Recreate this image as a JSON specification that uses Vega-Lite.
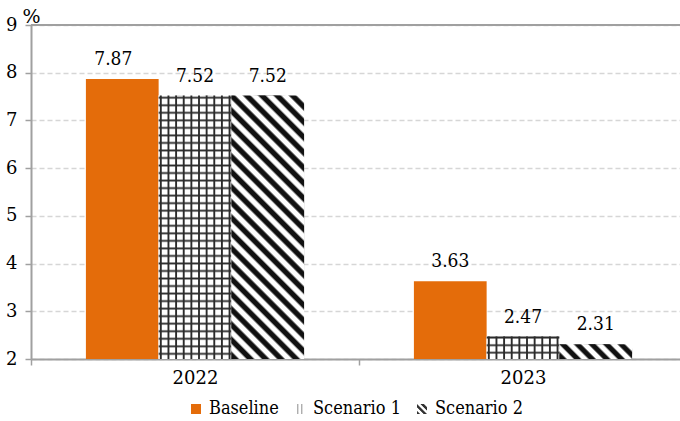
{
  "$schema": "https://vega.github.io/schema/vega-lite/v6.json",
  "width": 649,
  "height": 334,
  "autosize": {"type": "none"},
  "padding": {"left": 31, "top": 25, "right": 0, "bottom": 62},
  "background": "#ffffff",
  "data": {
    "values": [
      {"year": "2022", "series": "Baseline", "value": 7.87},
      {"year": "2022", "series": "Scenario 1", "value": 7.52},
      {"year": "2022", "series": "Scenario 2", "value": 7.52},
      {"year": "2023", "series": "Baseline", "value": 3.63},
      {"year": "2023", "series": "Scenario 1", "value": 2.47},
      {"year": "2023", "series": "Scenario 2", "value": 2.31}
    ]
  },
  "layer": [
    {
      "data": {"values": [{}]},
      "mark": {"type": "rule", "color": "#a0a0a0", "strokeWidth": 2},
      "encoding": {"y": {"datum": 9}}
    },
    {
      "encoding": {
        "x": {
          "field": "year",
          "type": "nominal",
          "scale": {"range": [0, 656], "paddingInner": 0, "paddingOuter": 0},
          "axis": {
            "title": null,
            "labelAngle": 0,
            "labelFont": "DejaVu Serif",
            "labelFontSize": 18,
            "labelColor": "#000000",
            "labelPadding": 4,
            "domainColor": "#a0a0a0",
            "domainWidth": 2,
            "tickColor": "#a0a0a0",
            "tickWidth": 1.5,
            "tickSize": 6,
            "tickBand": "extent",
            "grid": false
          }
        },
        "xOffset": {
          "field": "series",
          "type": "nominal",
          "sort": ["Baseline", "Scenario 1", "Scenario 2"],
          "scale": {"paddingInner": 0, "paddingOuter": 0.755}
        },
        "y": {
          "field": "value",
          "type": "quantitative",
          "scale": {"domain": [2, 9], "nice": false, "zero": false},
          "axis": {
            "title": "%",
            "titleAngle": 0,
            "titleAlign": "center",
            "titleBaseline": "alphabetic",
            "titleX": 0,
            "titleY": -3,
            "titleFont": "DejaVu Serif",
            "titleFontSize": 19,
            "titleFontWeight": "normal",
            "titleColor": "#000000",
            "values": [2, 3, 4, 5, 6, 7, 8, 9],
            "labelFont": "DejaVu Serif",
            "labelFontSize": 18,
            "labelColor": "#000000",
            "labelPadding": 8,
            "tickSize": 6,
            "tickColor": "#a0a0a0",
            "tickWidth": 1.5,
            "domainColor": "#a0a0a0",
            "domainWidth": 2,
            "grid": true,
            "gridColor": "#d6d6d6",
            "gridDash": [5, 3],
            "gridWidth": 1.5
          }
        }
      },
      "layer": [
        {
          "mark": {"type": "bar", "strokeWidth": 0},
          "encoding": {
            "y2": {"datum": 2},
            "color": {
              "field": "series",
              "type": "nominal",
              "sort": ["Baseline", "Scenario 1", "Scenario 2"],
              "scale": {
                "domain": ["Baseline", "Scenario 1", "Scenario 2"],
                "range": [
                  "#E46C0A",
                  {"expr": "{gradient:'linear',x1:0,y1:0,x2:1,y2:0,stops:[{offset:0,color:'#ffffff'},{offset:0.18,color:'#ffffff'},{offset:0.28,color:'#8c8c8c'},{offset:0.38,color:'#ffffff'},{offset:0.58,color:'#ffffff'},{offset:0.68,color:'#8c8c8c'},{offset:0.78,color:'#ffffff'},{offset:1,color:'#ffffff'}]}"},
                  {"expr": "{gradient:'linear',x1:0,y1:1,x2:1,y2:0,stops:[{offset:0.02,color:'#333333'},{offset:0.12,color:'#333333'},{offset:0.2,color:'#ffffff'},{offset:0.3,color:'#ffffff'},{offset:0.36,color:'#333333'},{offset:0.46,color:'#333333'},{offset:0.54,color:'#ffffff'},{offset:0.64,color:'#ffffff'},{offset:0.7,color:'#333333'},{offset:0.8,color:'#333333'},{offset:0.88,color:'#ffffff'},{offset:1,color:'#ffffff'}]}"}
                ]
              },
              "legend": {"title": null, "orient": "none", "legendX": 156, "legendY": 375}
            }
          }
        },
        {
          "transform": [{"filter": "datum.series === 'Scenario 1'"}],
          "mark": {
            "type": "bar",
            "strokeWidth": 0,
            "fill": {
              "gradient": "linear", "x1": 0, "y1": 0, "x2": 1, "y2": 0,
              "stops": [
                {"offset": 0, "color": "#fff"}, {"offset": 0.010, "color": "#fff"}, {"offset": 0.024, "color": "#2b2b2b"}, {"offset": 0.036, "color": "#2b2b2b"}, {"offset": 0.050, "color": "#fff"},
                {"offset": 0.115, "color": "#fff"}, {"offset": 0.129, "color": "#2b2b2b"}, {"offset": 0.141, "color": "#2b2b2b"}, {"offset": 0.155, "color": "#fff"},
                {"offset": 0.220, "color": "#fff"}, {"offset": 0.234, "color": "#2b2b2b"}, {"offset": 0.246, "color": "#2b2b2b"}, {"offset": 0.260, "color": "#fff"},
                {"offset": 0.325, "color": "#fff"}, {"offset": 0.339, "color": "#2b2b2b"}, {"offset": 0.351, "color": "#2b2b2b"}, {"offset": 0.365, "color": "#fff"},
                {"offset": 0.430, "color": "#fff"}, {"offset": 0.444, "color": "#2b2b2b"}, {"offset": 0.456, "color": "#2b2b2b"}, {"offset": 0.470, "color": "#fff"},
                {"offset": 0.535, "color": "#fff"}, {"offset": 0.549, "color": "#2b2b2b"}, {"offset": 0.561, "color": "#2b2b2b"}, {"offset": 0.575, "color": "#fff"},
                {"offset": 0.640, "color": "#fff"}, {"offset": 0.654, "color": "#2b2b2b"}, {"offset": 0.666, "color": "#2b2b2b"}, {"offset": 0.680, "color": "#fff"},
                {"offset": 0.745, "color": "#fff"}, {"offset": 0.759, "color": "#2b2b2b"}, {"offset": 0.771, "color": "#2b2b2b"}, {"offset": 0.785, "color": "#fff"},
                {"offset": 0.850, "color": "#fff"}, {"offset": 0.864, "color": "#2b2b2b"}, {"offset": 0.876, "color": "#2b2b2b"}, {"offset": 0.890, "color": "#fff"},
                {"offset": 0.955, "color": "#fff"}, {"offset": 0.969, "color": "#2b2b2b"}, {"offset": 0.981, "color": "#2b2b2b"}, {"offset": 0.995, "color": "#fff"}, {"offset": 1, "color": "#fff"}
              ]
            }
          },
          "encoding": {"y2": {"datum": 2}}
        },
        {
          "transform": [{"filter": "datum.series === 'Scenario 1' && datum.year === '2022'"}],
          "mark": {
            "type": "bar",
            "strokeWidth": 0,
            "fill": {
              "gradient": "linear", "x1": 0, "y1": 0, "x2": 0, "y2": 1,
              "stops": [
                {"offset": 0.001, "color": "rgba(43,43,43,0)"}, {"offset": 0.008, "color": "#2b2b2b"}, {"offset": 0.015, "color": "rgba(43,43,43,0)"},
                {"offset": 0.0296, "color": "rgba(43,43,43,0)"}, {"offset": 0.0366, "color": "#2b2b2b"}, {"offset": 0.0436, "color": "rgba(43,43,43,0)"},
                {"offset": 0.0582, "color": "rgba(43,43,43,0)"}, {"offset": 0.0652, "color": "#2b2b2b"}, {"offset": 0.0722, "color": "rgba(43,43,43,0)"},
                {"offset": 0.0868, "color": "rgba(43,43,43,0)"}, {"offset": 0.0938, "color": "#2b2b2b"}, {"offset": 0.1008, "color": "rgba(43,43,43,0)"},
                {"offset": 0.1154, "color": "rgba(43,43,43,0)"}, {"offset": 0.1224, "color": "#2b2b2b"}, {"offset": 0.1294, "color": "rgba(43,43,43,0)"},
                {"offset": 0.144, "color": "rgba(43,43,43,0)"}, {"offset": 0.151, "color": "#2b2b2b"}, {"offset": 0.158, "color": "rgba(43,43,43,0)"},
                {"offset": 0.1726, "color": "rgba(43,43,43,0)"}, {"offset": 0.1796, "color": "#2b2b2b"}, {"offset": 0.1866, "color": "rgba(43,43,43,0)"},
                {"offset": 0.2012, "color": "rgba(43,43,43,0)"}, {"offset": 0.2082, "color": "#2b2b2b"}, {"offset": 0.2152, "color": "rgba(43,43,43,0)"},
                {"offset": 0.2298, "color": "rgba(43,43,43,0)"}, {"offset": 0.2368, "color": "#2b2b2b"}, {"offset": 0.2438, "color": "rgba(43,43,43,0)"},
                {"offset": 0.2584, "color": "rgba(43,43,43,0)"}, {"offset": 0.2654, "color": "#2b2b2b"}, {"offset": 0.2724, "color": "rgba(43,43,43,0)"},
                {"offset": 0.287, "color": "rgba(43,43,43,0)"}, {"offset": 0.294, "color": "#2b2b2b"}, {"offset": 0.301, "color": "rgba(43,43,43,0)"},
                {"offset": 0.3156, "color": "rgba(43,43,43,0)"}, {"offset": 0.3226, "color": "#2b2b2b"}, {"offset": 0.3296, "color": "rgba(43,43,43,0)"},
                {"offset": 0.3442, "color": "rgba(43,43,43,0)"}, {"offset": 0.3512, "color": "#2b2b2b"}, {"offset": 0.3582, "color": "rgba(43,43,43,0)"},
                {"offset": 0.3728, "color": "rgba(43,43,43,0)"}, {"offset": 0.3798, "color": "#2b2b2b"}, {"offset": 0.3868, "color": "rgba(43,43,43,0)"},
                {"offset": 0.4014, "color": "rgba(43,43,43,0)"}, {"offset": 0.4084, "color": "#2b2b2b"}, {"offset": 0.4154, "color": "rgba(43,43,43,0)"},
                {"offset": 0.43, "color": "rgba(43,43,43,0)"}, {"offset": 0.437, "color": "#2b2b2b"}, {"offset": 0.444, "color": "rgba(43,43,43,0)"},
                {"offset": 0.4586, "color": "rgba(43,43,43,0)"}, {"offset": 0.4656, "color": "#2b2b2b"}, {"offset": 0.4726, "color": "rgba(43,43,43,0)"},
                {"offset": 0.4872, "color": "rgba(43,43,43,0)"}, {"offset": 0.4942, "color": "#2b2b2b"}, {"offset": 0.5012, "color": "rgba(43,43,43,0)"},
                {"offset": 0.5158, "color": "rgba(43,43,43,0)"}, {"offset": 0.5228, "color": "#2b2b2b"}, {"offset": 0.5298, "color": "rgba(43,43,43,0)"},
                {"offset": 0.5444, "color": "rgba(43,43,43,0)"}, {"offset": 0.5514, "color": "#2b2b2b"}, {"offset": 0.5584, "color": "rgba(43,43,43,0)"},
                {"offset": 0.573, "color": "rgba(43,43,43,0)"}, {"offset": 0.58, "color": "#2b2b2b"}, {"offset": 0.587, "color": "rgba(43,43,43,0)"},
                {"offset": 0.6016, "color": "rgba(43,43,43,0)"}, {"offset": 0.6086, "color": "#2b2b2b"}, {"offset": 0.6156, "color": "rgba(43,43,43,0)"},
                {"offset": 0.6302, "color": "rgba(43,43,43,0)"}, {"offset": 0.6372, "color": "#2b2b2b"}, {"offset": 0.6442, "color": "rgba(43,43,43,0)"},
                {"offset": 0.6588, "color": "rgba(43,43,43,0)"}, {"offset": 0.6658, "color": "#2b2b2b"}, {"offset": 0.6728, "color": "rgba(43,43,43,0)"},
                {"offset": 0.6874, "color": "rgba(43,43,43,0)"}, {"offset": 0.6944, "color": "#2b2b2b"}, {"offset": 0.7014, "color": "rgba(43,43,43,0)"},
                {"offset": 0.716, "color": "rgba(43,43,43,0)"}, {"offset": 0.723, "color": "#2b2b2b"}, {"offset": 0.73, "color": "rgba(43,43,43,0)"},
                {"offset": 0.7446, "color": "rgba(43,43,43,0)"}, {"offset": 0.7516, "color": "#2b2b2b"}, {"offset": 0.7586, "color": "rgba(43,43,43,0)"},
                {"offset": 0.7732, "color": "rgba(43,43,43,0)"}, {"offset": 0.7802, "color": "#2b2b2b"}, {"offset": 0.7872, "color": "rgba(43,43,43,0)"},
                {"offset": 0.8018, "color": "rgba(43,43,43,0)"}, {"offset": 0.8088, "color": "#2b2b2b"}, {"offset": 0.8158, "color": "rgba(43,43,43,0)"},
                {"offset": 0.8304, "color": "rgba(43,43,43,0)"}, {"offset": 0.8374, "color": "#2b2b2b"}, {"offset": 0.8444, "color": "rgba(43,43,43,0)"},
                {"offset": 0.859, "color": "rgba(43,43,43,0)"}, {"offset": 0.866, "color": "#2b2b2b"}, {"offset": 0.873, "color": "rgba(43,43,43,0)"},
                {"offset": 0.8876, "color": "rgba(43,43,43,0)"}, {"offset": 0.8946, "color": "#2b2b2b"}, {"offset": 0.9016, "color": "rgba(43,43,43,0)"},
                {"offset": 0.9162, "color": "rgba(43,43,43,0)"}, {"offset": 0.9232, "color": "#2b2b2b"}, {"offset": 0.9302, "color": "rgba(43,43,43,0)"},
                {"offset": 0.9448, "color": "rgba(43,43,43,0)"}, {"offset": 0.9518, "color": "#2b2b2b"}, {"offset": 0.9588, "color": "rgba(43,43,43,0)"},
                {"offset": 0.9734, "color": "rgba(43,43,43,0)"}, {"offset": 0.9804, "color": "#2b2b2b"}, {"offset": 0.9874, "color": "rgba(43,43,43,0)"}
              ]
            }
          },
          "encoding": {"y2": {"datum": 2}}
        },
        {
          "transform": [{"filter": "datum.series === 'Scenario 1' && datum.year === '2023'"}],
          "mark": {
            "type": "bar",
            "strokeWidth": 0,
            "fill": {
              "gradient": "linear", "x1": 0, "y1": 0, "x2": 0, "y2": 1,
              "stops": [
                {"offset": 0, "color": "#2b2b2b"}, {"offset": 0.05, "color": "#2b2b2b"}, {"offset": 0.13, "color": "rgba(43,43,43,0)"},
                {"offset": 0.305, "color": "rgba(43,43,43,0)"}, {"offset": 0.385, "color": "#2b2b2b"}, {"offset": 0.465, "color": "rgba(43,43,43,0)"},
                {"offset": 0.64, "color": "rgba(43,43,43,0)"}, {"offset": 0.72, "color": "#2b2b2b"}, {"offset": 0.80, "color": "rgba(43,43,43,0)"},
                {"offset": 1, "color": "rgba(43,43,43,0)"}
              ]
            }
          },
          "encoding": {"y2": {"datum": 2}}
        },
        {
          "transform": [{"filter": "datum.series === 'Scenario 2' && datum.year === '2022'"}],
          "mark": {
            "type": "bar",
            "strokeWidth": 0,
            "fill": {
              "gradient": "linear", "x1": 0, "y1": 1, "x2": 0.32743, "y2": -0.18576,
              "stops": [
                {"offset": 0.0036, "color": "#111"}, {"offset": 0.0191, "color": "#111"}, {"offset": 0.0264, "color": "#fff"}, {"offset": 0.0418, "color": "#fff"},
                {"offset": 0.0491, "color": "#111"}, {"offset": 0.0645, "color": "#111"}, {"offset": 0.0718, "color": "#fff"}, {"offset": 0.0873, "color": "#fff"},
                {"offset": 0.0945, "color": "#111"}, {"offset": 0.1100, "color": "#111"}, {"offset": 0.1173, "color": "#fff"}, {"offset": 0.1327, "color": "#fff"},
                {"offset": 0.1400, "color": "#111"}, {"offset": 0.1555, "color": "#111"}, {"offset": 0.1627, "color": "#fff"}, {"offset": 0.1782, "color": "#fff"},
                {"offset": 0.1855, "color": "#111"}, {"offset": 0.2009, "color": "#111"}, {"offset": 0.2082, "color": "#fff"}, {"offset": 0.2236, "color": "#fff"},
                {"offset": 0.2309, "color": "#111"}, {"offset": 0.2464, "color": "#111"}, {"offset": 0.2536, "color": "#fff"}, {"offset": 0.2691, "color": "#fff"},
                {"offset": 0.2764, "color": "#111"}, {"offset": 0.2918, "color": "#111"}, {"offset": 0.2991, "color": "#fff"}, {"offset": 0.3145, "color": "#fff"},
                {"offset": 0.3218, "color": "#111"}, {"offset": 0.3373, "color": "#111"}, {"offset": 0.3445, "color": "#fff"}, {"offset": 0.3600, "color": "#fff"},
                {"offset": 0.3673, "color": "#111"}, {"offset": 0.3827, "color": "#111"}, {"offset": 0.3900, "color": "#fff"}, {"offset": 0.4055, "color": "#fff"},
                {"offset": 0.4127, "color": "#111"}, {"offset": 0.4282, "color": "#111"}, {"offset": 0.4355, "color": "#fff"}, {"offset": 0.4509, "color": "#fff"},
                {"offset": 0.4582, "color": "#111"}, {"offset": 0.4736, "color": "#111"}, {"offset": 0.4809, "color": "#fff"}, {"offset": 0.4964, "color": "#fff"},
                {"offset": 0.5036, "color": "#111"}, {"offset": 0.5191, "color": "#111"}, {"offset": 0.5264, "color": "#fff"}, {"offset": 0.5418, "color": "#fff"},
                {"offset": 0.5491, "color": "#111"}, {"offset": 0.5645, "color": "#111"}, {"offset": 0.5718, "color": "#fff"}, {"offset": 0.5873, "color": "#fff"},
                {"offset": 0.5945, "color": "#111"}, {"offset": 0.6100, "color": "#111"}, {"offset": 0.6173, "color": "#fff"}, {"offset": 0.6327, "color": "#fff"},
                {"offset": 0.6400, "color": "#111"}, {"offset": 0.6555, "color": "#111"}, {"offset": 0.6627, "color": "#fff"}, {"offset": 0.6782, "color": "#fff"},
                {"offset": 0.6855, "color": "#111"}, {"offset": 0.7009, "color": "#111"}, {"offset": 0.7082, "color": "#fff"}, {"offset": 0.7236, "color": "#fff"},
                {"offset": 0.7309, "color": "#111"}, {"offset": 0.7464, "color": "#111"}, {"offset": 0.7536, "color": "#fff"}, {"offset": 0.7691, "color": "#fff"},
                {"offset": 0.7764, "color": "#111"}, {"offset": 0.7918, "color": "#111"}, {"offset": 0.7991, "color": "#fff"}, {"offset": 0.8145, "color": "#fff"},
                {"offset": 0.8218, "color": "#111"}, {"offset": 0.8373, "color": "#111"}, {"offset": 0.8445, "color": "#fff"}, {"offset": 0.8600, "color": "#fff"},
                {"offset": 0.8673, "color": "#111"}, {"offset": 0.8827, "color": "#111"}, {"offset": 0.8900, "color": "#fff"}, {"offset": 0.9055, "color": "#fff"},
                {"offset": 0.9127, "color": "#111"}, {"offset": 0.9282, "color": "#111"}, {"offset": 0.9355, "color": "#fff"}, {"offset": 0.9509, "color": "#fff"},
                {"offset": 0.9582, "color": "#111"}, {"offset": 0.9736, "color": "#111"}, {"offset": 0.9809, "color": "#fff"}, {"offset": 0.9964, "color": "#fff"}
              ]
            }
          },
          "encoding": {"y2": {"datum": 2}}
        },
        {
          "transform": [{"filter": "datum.series === 'Scenario 2' && datum.year === '2023'"}],
          "mark": {
            "type": "bar",
            "strokeWidth": 0,
            "fill": {
              "gradient": "linear", "x1": 0, "y1": 1, "x2": 1.1555, "y2": 0.765,
              "stops": [
                {"offset": 0.0133, "color": "#111"}, {"offset": 0.0700, "color": "#111"}, {"offset": 0.0967, "color": "#fff"}, {"offset": 0.1533, "color": "#fff"},
                {"offset": 0.1800, "color": "#111"}, {"offset": 0.2367, "color": "#111"}, {"offset": 0.2633, "color": "#fff"}, {"offset": 0.3200, "color": "#fff"},
                {"offset": 0.3467, "color": "#111"}, {"offset": 0.4033, "color": "#111"}, {"offset": 0.4300, "color": "#fff"}, {"offset": 0.4867, "color": "#fff"},
                {"offset": 0.5133, "color": "#111"}, {"offset": 0.5700, "color": "#111"}, {"offset": 0.5967, "color": "#fff"}, {"offset": 0.6533, "color": "#fff"},
                {"offset": 0.6800, "color": "#111"}, {"offset": 0.7367, "color": "#111"}, {"offset": 0.7633, "color": "#fff"}, {"offset": 0.8200, "color": "#fff"},
                {"offset": 0.8467, "color": "#111"}, {"offset": 0.9033, "color": "#111"}, {"offset": 0.9300, "color": "#fff"}, {"offset": 0.9867, "color": "#fff"}
              ]
            }
          },
          "encoding": {"y2": {"datum": 2}}
        },
        {
          "transform": [{"filter": "!(datum.series === 'Baseline' && datum.year === '2022')"}],
          "mark": {
            "type": "text",
            "font": "DejaVu Serif Condensed",
            "fontSize": 19,
            "baseline": "alphabetic",
            "dy": -14,
            "color": "#000000"
          },
          "encoding": {
            "text": {"field": "value", "type": "quantitative", "format": ".2f"}
          }
        },
        {
          "transform": [{"filter": "datum.series === 'Baseline' && datum.year === '2022'"}],
          "mark": {
            "type": "text",
            "font": "DejaVu Serif Condensed",
            "fontSize": 19,
            "baseline": "alphabetic",
            "dx": -9,
            "dy": -14,
            "color": "#000000"
          },
          "encoding": {
            "text": {"field": "value", "type": "quantitative", "format": ".2f"}
          }
        }
      ]
    }
  ],
  "config": {
    "view": {"stroke": null},
    "font": "DejaVu Serif",
    "legend": {
      "direction": "horizontal",
      "symbolType": "square",
      "symbolSize": 100,
      "symbolStrokeWidth": 0,
      "labelFont": "DejaVu Serif Condensed",
      "labelFontSize": 18,
      "labelColor": "#000000",
      "labelOffset": 4,
      "columnPadding": 12
    }
  }
}
